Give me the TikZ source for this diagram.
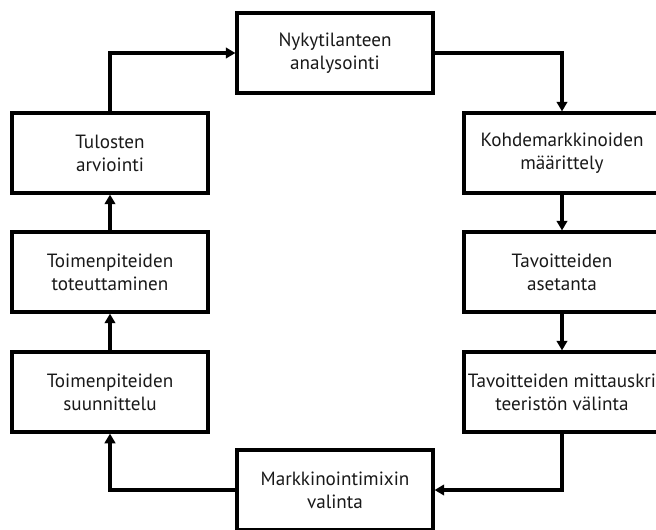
\documentclass[tikz,border=0pt]{standalone}
\usepackage{fontspec}
\setmainfont{PT Sans}
\usetikzlibrary{arrows.meta}

\begin{document}
\begin{tikzpicture}[x=0.02cm, y=-0.02cm, line width=1.8pt, >={Triangle[length=5.5pt,width=6pt]},
    every node/.style={draw, fill=white, rectangle, line width=1.8pt, minimum width=3.92cm, minimum height=1.6cm, align=center, inner sep=1pt, text=black!90, font=\fontsize{10.9}{13}\selectfont}]
    \useasboundingbox (0,0) rectangle (656,529);
    \clip (0,0) rectangle (656,529);
    \node (v0) at (335, 53) {Nykytilanteen\\analysointi};
    \node (v1) at (562, 153) {Kohdemarkkinoiden\\määrittely};
    \node (v2) at (562, 272) {Tavoitteiden\\asetanta};
    \node (v3) at (562, 392) {Tavoitteiden mittauskri\\teeristön välinta};
    \node (v4) at (335, 490) {Markkinointimixin\\valinta};
    \node (v5) at (110, 392) {Toimenpiteiden\\suunnittelu};
    \node (v6) at (110, 272) {Toimenpiteiden\\toteuttaminen};
    \node (v7) at (110, 153) {Tulosten\\arviointi};
    \foreach \from/\to in {v1/v2, v2/v3, v5/v6, v6/v7}
        \draw[->] (\from) -- (\to);
    \foreach \from/\to in {v0/v1, v4/v5}
        \draw[->] (\from) -| (\to);
    \foreach \from/\to in {v3/v4, v7/v0}
        \draw[->] (\from) |- (\to);
\end{tikzpicture}
\end{document}
